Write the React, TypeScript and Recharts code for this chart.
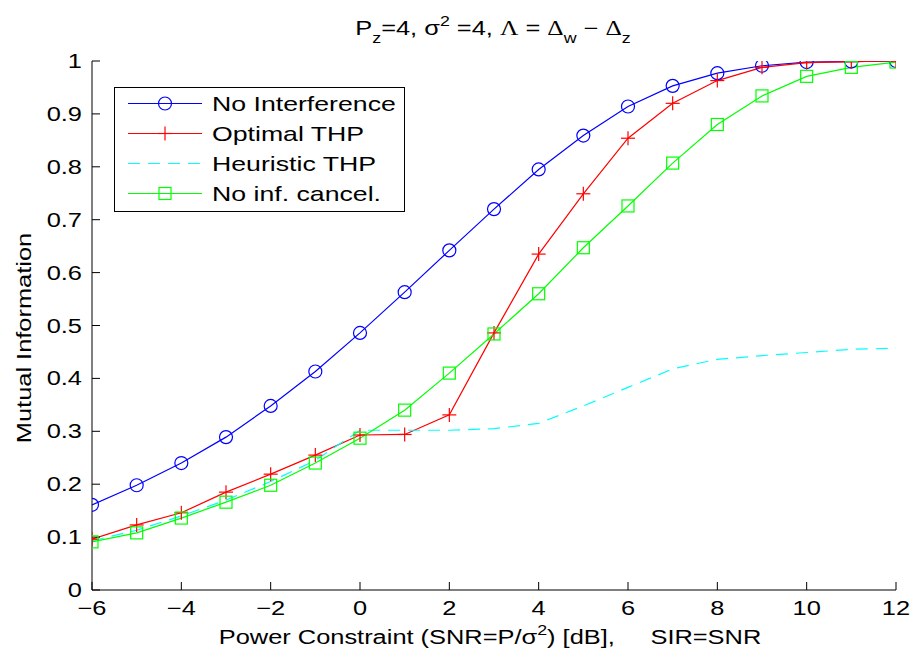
import React from 'react';
import { LineChart, Line, XAxis, YAxis, Legend } from 'recharts';

const snr = [-6, -5, -4, -3, -2, -1, 0, 1, 2, 3, 4, 5, 6, 7, 8, 9, 10, 11, 12];
const noInterference = [0.161, 0.198, 0.24, 0.289, 0.348, 0.413, 0.486, 0.563, 0.642, 0.72, 0.795, 0.859, 0.914, 0.953, 0.977, 0.991, 0.998, 0.999, 1.0];
const optimalThp = [0.096, 0.123, 0.146, 0.185, 0.219, 0.255, 0.293, 0.294, 0.331, 0.486, 0.635, 0.749, 0.854, 0.92, 0.963, 0.988, 0.997, 0.999, 1.0];
const heuristicThp = [0.093, 0.113, 0.14, 0.17, 0.205, 0.245, 0.302, 0.302, 0.302, 0.305, 0.315, 0.348, 0.383, 0.418, 0.436, 0.443, 0.449, 0.455, 0.457];
const noInfCancel = [0.091, 0.108, 0.136, 0.166, 0.198, 0.24, 0.287, 0.34, 0.41, 0.484, 0.56, 0.647, 0.726, 0.807, 0.88, 0.934, 0.971, 0.988, 0.998];

const xTicks = [-6, -4, -2, 0, 2, 4, 6, 8, 10, 12];
const yTicks = [0, 0.1, 0.2, 0.3, 0.4, 0.5, 0.6, 0.7, 0.8, 0.9, 1];

const data = snr.map((s, i) => ({
  snr: s,
  noInterference: noInterference[i],
  optimalThp: optimalThp[i],
  heuristicThp: heuristicThp[i],
  noInfCancel: noInfCancel[i],
}));

const FONT = '"Liberation Sans", Arial, Helvetica, sans-serif';
const STRETCH = 1.27;

const series = [
  { key: 'noInterference', name: 'No Interference', color: '#0000ff', marker: 'circle', dash: undefined },
  { key: 'optimalThp', name: 'Optimal THP', color: '#ff0000', marker: 'plus', dash: undefined },
  { key: 'heuristicThp', name: 'Heuristic THP', color: '#00ffff', marker: 'none', dash: '12 8' },
  { key: 'noInfCancel', name: 'No inf. cancel.', color: '#00ff00', marker: 'square', dash: undefined },
];

function Marker({ cx, cy, shape, color }: any) {
  if (cx == null || cy == null) return null;
  if (shape === 'circle') {
    return <circle cx={cx} cy={cy} r={6.5} fill="none" stroke={color} strokeWidth={1.2} />;
  }
  if (shape === 'plus') {
    return (
      <g stroke={color} strokeWidth={1.2}>
        <line x1={cx - 7} y1={cy} x2={cx + 7} y2={cy} />
        <line x1={cx} y1={cy - 7} x2={cx} y2={cy + 7} />
      </g>
    );
  }
  if (shape === 'square') {
    return <rect x={cx - 6} y={cy - 6} width={12} height={12} fill="none" stroke={color} strokeWidth={1.2} />;
  }
  return null;
}

const fmtNum = (v: number) => String(v).replace('-', '\u2212');

const XTick = ({ x, y, payload }: any) => (
  <text
    transform={`translate(${x},${y}) scale(${STRETCH},1)`}
    textAnchor="middle"
    dy={23}
    fontSize={20}
    fontFamily={FONT}
    fill="#000"
  >
    {fmtNum(payload.value)}
  </text>
);

const YTick = ({ x, y, payload }: any) => (
  <text
    transform={`translate(${x},${y}) scale(${STRETCH},1)`}
    textAnchor="end"
    dy={7}
    fontSize={20}
    fontFamily={FONT}
    fill="#000"
  >
    {fmtNum(payload.value)}
  </text>
);

function LegendBox() {
  return (
    <svg width={292} height={126} style={{ display: 'block' }}>
      <rect x={0.5} y={0.5} width={290} height={124} fill="#fff" stroke="#000" strokeWidth={1} />
      {series.map((s, i) => {
        const cy = 16.5 + i * 30;
        return (
          <g key={s.key}>
            <line x1={14} y1={cy} x2={88} y2={cy} stroke={s.color} strokeWidth={1.2} strokeDasharray={s.dash} />
            <Marker cx={51} cy={cy} shape={s.marker} color={s.color} />
            <text
              transform={`translate(98,${cy + 7}) scale(${STRETCH},1)`}
              fontSize={21}
              fontFamily={FONT}
              fill="#000"
            >
              {s.name}
            </text>
          </g>
        );
      })}
    </svg>
  );
}

export default function App() {
  return (
    <div style={{ position: 'absolute', left: 0, top: 0, width: 914, height: 655, background: '#fff' }}>
      <LineChart width={914} height={655} data={data} margin={{ top: 61, right: 18, bottom: 0, left: 0 }}>
        <XAxis
          dataKey="snr"
          type="number"
          domain={[-6, 12]}
          ticks={xTicks}
          height={65}
          stroke="#000"
          tickSize={-8}
          tickMargin={10}
          tick={<XTick />}
          allowDataOverflow
        />
        <XAxis
          xAxisId="top"
          orientation="top"
          type="number"
          domain={[-6, 12]}
          ticks={xTicks}
          height={0}
          stroke="#000"
          tickSize={-8}
          tick={false}
          allowDataOverflow
        />
        <YAxis
          type="number"
          domain={[0, 1]}
          ticks={yTicks}
          width={92}
          stroke="#000"
          tickSize={-8}
          tickMargin={18}
          tick={<YTick />}
          allowDataOverflow
        />
        <YAxis
          yAxisId="right"
          orientation="right"
          type="number"
          domain={[0, 1]}
          ticks={yTicks}
          width={0}
          stroke="#000"
          tickSize={-8}
          tick={false}
          allowDataOverflow
        />
        <Legend
          layout="vertical"
          align="center"
          verticalAlign="middle"
          wrapperStyle={{ position: 'absolute', left: 114, top: 87, width: 292, height: 126 }}
          content={() => <LegendBox />}
        />
        {series.map((s) => (
          <Line
            key={s.key}
            dataKey={s.key}
            name={s.name}
            type="linear"
            stroke={s.color}
            strokeWidth={1.2}
            strokeDasharray={s.dash}
            dot={
              s.marker === 'none'
                ? false
                : (p: any) => <Marker key={`${s.key}-${p.index}`} cx={p.cx} cy={p.cy} shape={s.marker} color={s.color} />
            }
            activeDot={false}
            isAnimationActive={false}
          />
        ))}
      </LineChart>
      <svg
        width={914}
        height={655}
        style={{ position: 'absolute', left: 0, top: 0, pointerEvents: 'none' }}
      >
        <text
          transform={`translate(493,35) scale(${STRETCH},1)`}
          textAnchor="middle"
          fontSize={20}
          fontFamily={FONT}
          fill="#000"
        >
          P<tspan dy={8} fontSize={14}>z</tspan>
          <tspan dy={-8}>=4, σ</tspan>
          <tspan dy={-9} fontSize={14}>2</tspan>
          <tspan dy={9}> =4, </tspan>
          <tspan fontFamily='"Liberation Serif", serif'>Λ</tspan>
          <tspan> = </tspan>
          <tspan fontFamily='"Liberation Serif", serif'>Δ</tspan>
          <tspan dy={8} fontSize={14}>w</tspan>
          <tspan dy={-8}> − </tspan>
          <tspan fontFamily='"Liberation Serif", serif'>Δ</tspan>
          <tspan dy={8} fontSize={14}>z</tspan>
        </text>
        <text
          transform={`translate(490,644) scale(${STRETCH},1)`}
          textAnchor="middle"
          fontSize={20}
          fontFamily={FONT}
          fill="#000"
        >
          Power Constraint (SNR=P/σ<tspan dy={-9} fontSize={14}>2</tspan>
          <tspan dy={9}>) [dB],</tspan>
          <tspan dx={28}>SIR=SNR</tspan>
        </text>
        <text
          transform={`translate(31,338) rotate(-90) scale(${STRETCH},1)`}
          textAnchor="middle"
          fontSize={20}
          fontFamily={FONT}
          fill="#000"
        >
          Mutual Information
        </text>
      </svg>
    </div>
  );
}
